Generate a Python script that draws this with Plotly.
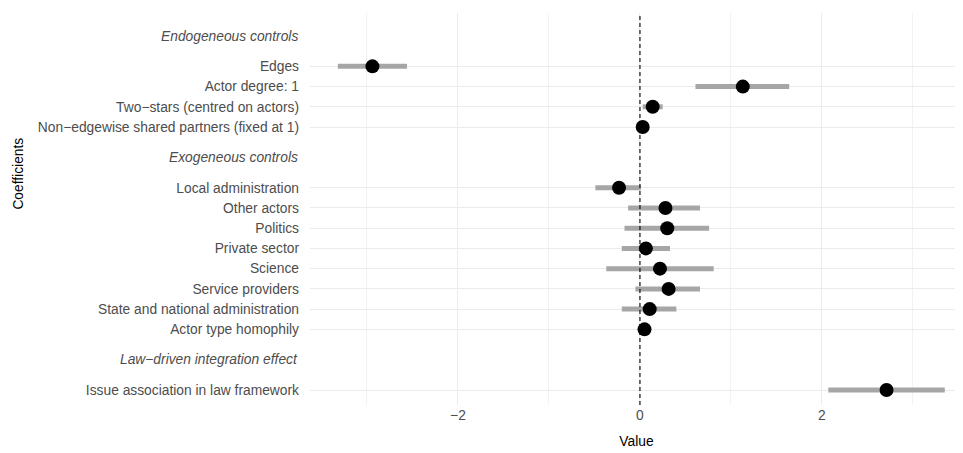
import plotly.graph_objects as go

groups = ["Endogeneous controls", "Exogeneous controls", "Law\u2212driven integration effect"]
group_terms = [
    ["Edges", "Actor degree: 1", "Two\u2212stars (centred on actors)", "Non\u2212edgewise shared partners (fixed at 1)"],
    ["Local administration", "Other actors", "Politics", "Private sector", "Science",
     "Service providers", "State and national administration", "Actor type homophily"],
    ["Issue association in law framework"],
]
estimates = [-2.94, 1.13, 0.14, 0.03,
             -0.23, 0.28, 0.30, 0.065, 0.22, 0.315, 0.107, 0.05,
             2.71]
ci_low = [-3.32, 0.61, 0.03, 0.01,
          -0.49, -0.13, -0.17, -0.20, -0.37, -0.05, -0.20, 0.03,
          2.07]
ci_high = [-2.56, 1.64, 0.25, 0.05,
           0.01, 0.66, 0.76, 0.33, 0.81, 0.66, 0.40, 0.07,
           3.35]

# layout positions (header, then its terms)
terms, ypos, header_pos = [], [], []
p = 0.0
for g, ts in zip(groups, group_terms):
    header_pos.append(p)
    p += 1.5
    for t in ts:
        terms.append(t)
        ypos.append(p)
        p += 1.0
    p += 0.5

FONT = "Liberation Sans, Arial, sans-serif"
FS = 13.8

fig = go.Figure()
fig.add_trace(go.Scatter(
    x=estimates, y=ypos, mode="markers",
    marker=dict(color="black", size=14),
    error_x=dict(type="data", symmetric=False,
                 array=[h - e for h, e in zip(ci_high, estimates)],
                 arrayminus=[e - l for e, l in zip(estimates, ci_low)],
                 color="#A6A6A6", thickness=5, width=0),
    showlegend=False, hoverinfo="skip",
))

fig.add_vline(x=0, line=dict(color="black", width=1.1, dash="4px,3px"))

for g, hp in zip(groups, header_pos):
    fig.add_annotation(text="<i>" + g + "</i>", x=0, xref="paper", y=hp, yref="y",
                       xanchor="right", xshift=-10, showarrow=False,
                       font=dict(family=FONT, size=FS, color="#4D4D4D"))

fig.add_annotation(text="Coefficients", x=-291.5 / 653, xref="paper", y=0.589, yref="paper",
                   textangle=-90, showarrow=False, xanchor="center", yanchor="middle",
                   font=dict(family=FONT, size=FS, color="black"))

fig.update_layout(
    width=955, height=445,
    margin=dict(l=302, r=0, t=5, b=48),
    plot_bgcolor="white", paper_bgcolor="white",
    font=dict(family=FONT, size=FS, color="#4D4D4D"),
    xaxis=dict(range=[-3.626, 3.55], tick0=0, dtick=2, showgrid=True, gridcolor="#EBEBEB",
               gridwidth=1.1, zeroline=False, showline=False, ticks="", automargin=False,
               tickfont=dict(size=FS, color="#4D4D4D"),
               minor=dict(dtick=1, showgrid=True, gridcolor="#F2F2F2", gridwidth=0.7),
               title=dict(text="Value", font=dict(size=FS, color="black"), standoff=14)),
    yaxis=dict(range=[18.24, -1.137], tickvals=ypos, ticktext=terms, showgrid=True,
               gridcolor="#EBEBEB", gridwidth=1.1, zeroline=False, showline=False, ticks="",
               ticklabelstandoff=10, automargin=False,
               tickfont=dict(size=FS, color="#4D4D4D")),
)

fig.write_html("out.html")
